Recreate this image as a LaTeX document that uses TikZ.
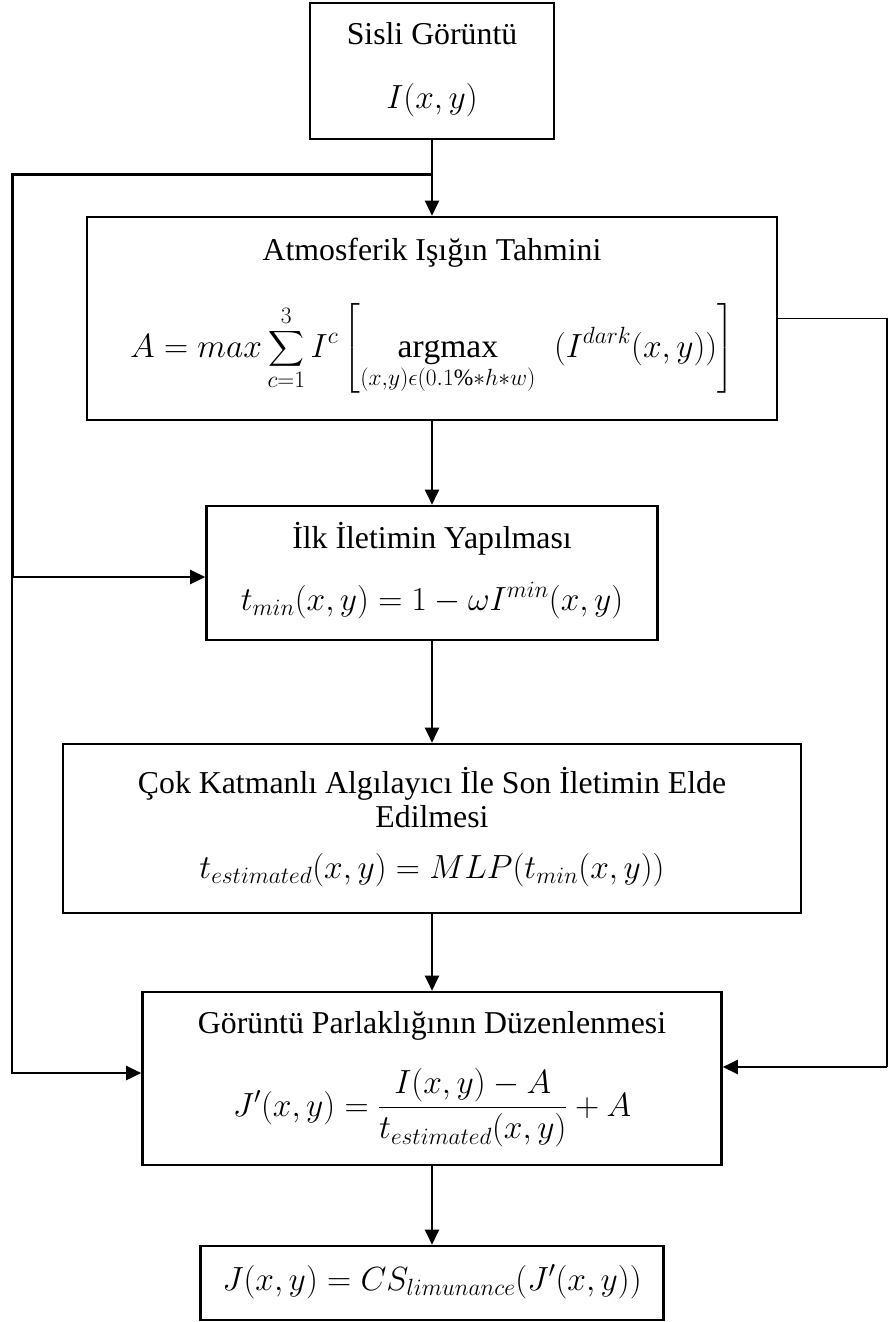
\RequirePackage{fix-cm}
\documentclass[tikz,border=0pt]{standalone}
\usepackage{amsmath}
\usepackage{fontspec}
\setmainfont{Liberation Serif}
\usetikzlibrary{arrows.meta,calc}
\tikzset{
  box/.style={draw, line width=2.6pt, inner sep=0pt, rectangle},
  ttl/.style={font=\fontsize{31.8}{34}\selectfont, inner sep=0pt, anchor=base},
  mth/.style={font=\fontsize{33.5}{40}\selectfont, inner sep=0pt, anchor=base},
  conn/.style={line width=2pt, -{Triangle[length=15pt,width=14pt]}},
  sidearr/.style={line width=2.6pt, -{Triangle[length=15pt,width=14pt]}, line join=miter},
}
\begin{document}
\begin{tikzpicture}[x=1pt,y=-1pt]
\useasboundingbox (0,0) rectangle (889,1322);
% boxes
\node[box, minimum width=244pt, minimum height=136pt] (b1) at (432,71) {};
\node[box, minimum width=690pt, minimum height=203pt] (b2) at (432,318.5) {};
\node[box, minimum width=451pt, minimum height=134pt] (b3) at (432,573) {};
\node[box, minimum width=738pt, minimum height=169pt] (b4) at (432,828.5) {};
\node[box, minimum width=579pt, minimum height=173pt] (b5) at (432,1078.5) {};
\node[box, minimum width=463pt, minimum height=74pt] (b6) at (432,1283) {};
% texts
\node[ttl] (t1) at (432,45) {Sisli Görüntü};
\node[mth] (m1) at (432,108) {$I(x,y)$};
\node[ttl] (t2) at (432,260) {Atmosferik Işığın Tahmini};
\node[mth] (m2) at (432,357) {$A = max\displaystyle\sum_{c=1}^{3} I^{c}\left[\mathop{\mathrm{argmax}}\limits_{(x,y)\epsilon(0.1\%*h*w)}\;\; (I^{dark}(x,y))\right]$};
\node[ttl] (t3) at (432,548) {İlk İletimin Yapılması};
\node[mth] (m3) at (432,610) {$t_{min}(x,y) = 1 - \omega I^{min}(x,y)$};
\node[ttl] (t4a) at (432,793) {Çok Katmanlı Algılayıcı İle Son İletimin Elde};
\node[ttl] (t4b) at (432,827) {Edilmesi};
\node[mth] (m4) at (432,878) {$t_{estimated}(x,y) = MLP(t_{min}(x,y))$};
\node[ttl] (t5) at (432,1033) {Görüntü Parlaklığının Düzenlenmesi};
\node[mth] (m5) at (432,1116) {$J'(x,y) = \dfrac{I(x,y) - A}{t_{estimated}(x,y)} + A$};
\node[mth] (m6) at (432,1290) {$J(x,y) = CS_{limunance}(J'(x,y))$};
% main chain
\draw[conn] (b1.south) -- (b2.north);
\draw[conn] (b2.south) -- (b3.north);
\draw[conn] (b3.south) -- (b4.north);
\draw[conn] (b4.south) -- (b5.north);
\draw[conn] (b5.south) -- (b6.north);
% left feedback
\coordinate (jT) at (432,174);
\coordinate (jL) at (12,174);
\coordinate (jA) at (12,577);
\coordinate (jB) at (12,1073);
\draw[line width=3pt, line join=miter] (jT) -- (jL) -- (jA);
\draw[sidearr] (jA) -- (jA -| b3.west);
\draw[sidearr] (jA) -- (jB) -- (jB -| b5.west);
% right feedback
\coordinate (rB) at (887,1067);
\draw[line width=1.8pt] (b2.east) -| (rB);
\draw[line width=2.3pt, -{Triangle[length=15pt,width=14pt]}] (rB) -- (rB -| b5.east);
\end{tikzpicture}
\end{document}
